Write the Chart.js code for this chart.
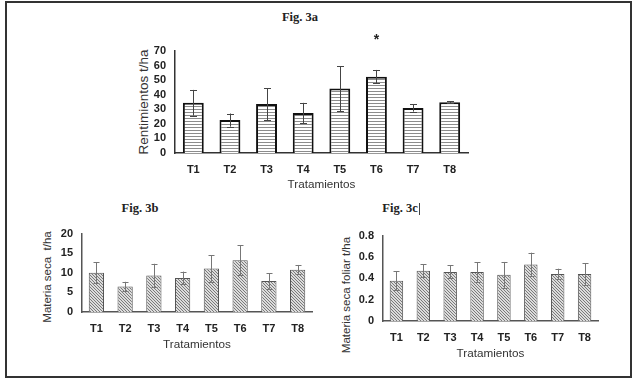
<!DOCTYPE html>
<html>
<head>
<meta charset="utf-8">
<script src="https://cdn.jsdelivr.net/npm/chart.js@4.4.1/dist/chart.umd.min.js"></script>
<style>
  body { margin: 0; background: #fff; width: 640px; height: 388px; position: relative; overflow: hidden; }
  .box { position: absolute; }
  .fig { position: absolute; font: bold 12.5px "Liberation Serif", serif; color: #222; transform: translate(-50%, -50%); white-space: nowrap; }
  .ytitle { position: absolute; font-family: "Liberation Sans", Arial, sans-serif; color: #333; white-space: pre; line-height: 1;
            transform: translate(-50%, -50%) rotate(-90deg); }
</style>
</head>
<body>
<div class="box" style="left:5px;top:1px;width:623px;height:373px;border:2px solid #333"></div>

<div class="fig" style="left:300px;top:17px">Fig. 3a</div>
<div class="fig" style="left:140px;top:208px">Fig. 3b</div>
<div class="fig" style="left:400px;top:208px">Fig. 3c</div>
<div class="box" style="left:419px;top:203px;width:1px;height:12px;background:#444"></div>

<div class="ytitle" style="left:144px;top:102px;font-size:13.5px">Rentimientos t/ha</div>
<div class="ytitle" style="left:48px;top:277px;font-size:11.5px">Materia seca  t/ha</div>
<div class="ytitle" style="left:347px;top:295px;font-size:11.5px">Materia seca foliar t/ha</div>

<div class="box" style="left:135px;top:28px"><canvas id="fig3a" width="345" height="164"></canvas></div>
<div class="box" style="left:42px;top:218px"><canvas id="fig3b" width="283" height="134"></canvas></div>
<div class="box" style="left:341px;top:220px"><canvas id="fig3c" width="271" height="141"></canvas></div>

<script>
// treatments on the x axis
const treatments = ["T1", "T2", "T3", "T4", "T5", "T6", "T7", "T8"];

// Fig. 3a - yield t/ha
const yieldMeans = [34.5, 22.6, 33.6, 27.4, 44.2, 52.4, 30.9, 34.8];
const yieldErrors = [8.8, 4.5, 11.0, 7.0, 15.5, 4.6, 2.5, 0.8];
const yieldMarks = ["", "", "", "", "", "*", "", ""];

// Fig. 3b - dry matter t/ha
const dryMeans = [10.0, 6.5, 9.3, 8.7, 11.1, 13.2, 7.9, 10.8];
const dryErrors = [2.7, 1.2, 3.0, 1.6, 3.4, 3.8, 2.0, 1.2];

// Fig. 3c - leaf dry matter t/ha
const leafMeans = [0.376, 0.47, 0.46, 0.46, 0.433, 0.53, 0.44, 0.44];
const leafErrors = [0.09, 0.06, 0.06, 0.09, 0.12, 0.11, 0.05, 0.10];

// horizontal line hatch
function hLines() {
  const c = document.createElement("canvas");
  c.width = 4; c.height = 3;
  const g = c.getContext("2d");
  g.fillStyle = "#fff"; g.fillRect(0, 0, 4, 3);
  g.fillStyle = "#8c8c8c"; g.fillRect(0, 0, 4, 1);
  return g.createPattern(c, "repeat");
}

// diagonal hatch
function dLines() {
  const c = document.createElement("canvas");
  c.width = 3; c.height = 3;
  const g = c.getContext("2d");
  g.fillStyle = "#dcdcdc"; g.fillRect(0, 0, 3, 3);
  g.fillStyle = "#7a7a7a";
  for (let i = 0; i < 3; i++) g.fillRect(i, i, 1, 1);
  return g.createPattern(c, "repeat");
}

// error bars + significance marks
const errorBars = {
  id: "errorBars",
  afterDatasetsDraw(chart, args, opts) {
    const ctx = chart.ctx;
    const x = chart.scales.x, y = chart.scales.y;
    const means = chart.data.datasets[0].data;
    ctx.save();
    ctx.strokeStyle = opts.color;
    ctx.lineWidth = 1;
    means.forEach((m, i) => {
      const e = opts.errors[i];
      const px = Math.round(x.getPixelForValue(i)) + 0.5;
      const top = y.getPixelForValue(m + e);
      const bot = y.getPixelForValue(m - e);
      ctx.beginPath();
      ctx.moveTo(px, top); ctx.lineTo(px, bot);
      ctx.moveTo(px - opts.cap, Math.round(top) + 0.5); ctx.lineTo(px + opts.cap, Math.round(top) + 0.5);
      ctx.moveTo(px - opts.cap, Math.round(bot) + 0.5); ctx.lineTo(px + opts.cap, Math.round(bot) + 0.5);
      ctx.stroke();
      if (opts.marks && opts.marks[i]) {
        ctx.fillStyle = "#222";
        ctx.font = "bold 14px 'Liberation Sans'";
        ctx.textAlign = "center";
        ctx.textBaseline = "middle";
        ctx.fillText(opts.marks[i], px, top - 30);
      }
    });
    ctx.restore();
  }
};

function makeChart(id, means, errors, o) {
  const ctx = document.getElementById(id).getContext("2d");
  return new Chart(ctx, {
    type: "bar",
    data: {
      labels: treatments,
      datasets: [{
        data: means,
        backgroundColor: o.fill,
        borderColor: o.border,
        borderWidth: o.borderWidth,
        barPercentage: o.barPct,
        categoryPercentage: 1
      }]
    },
    options: {
      responsive: false,
      animation: false,
      layout: { padding: { top: o.padTop, right: o.padRight, left: 0, bottom: 0 } },
      plugins: {
        legend: { display: false },
        tooltip: { enabled: false },
        errorBars: { errors: errors, color: o.errColor, cap: o.cap, marks: o.marks }
      },
      scales: {
        x: {
          grid: { display: false, drawTicks: false },
          border: { display: true, color: o.axisColor, width: 1.5 },
          ticks: { color: "#222", padding: 10, autoSkip: false,
                   font: { family: "Liberation Sans", size: 11, weight: "bold" } },
          title: { display: true, text: "Tratamientos", color: "#333", padding: 0,
                   font: { family: "Liberation Sans", size: 11.7 } },
          afterFit: (s) => { s.height = o.xHeight; }
        },
        y: {
          min: 0, max: o.max,
          grid: { display: false, drawTicks: false },
          border: { display: true, color: o.axisColor, width: 1.5 },
          ticks: { stepSize: o.step, color: "#222", padding: 9, autoSkip: false,
                   font: { family: "Liberation Sans", size: 11, weight: "bold" } },
          afterFit: (s) => { s.width = o.yWidth; }
        }
      }
    },
    plugins: [errorBars]
  });
}

makeChart("fig3a", yieldMeans, yieldErrors, {
  fill: hLines(), border: "#111", borderWidth: 2, barPct: 0.57,
  errColor: "#444", cap: 3.5, marks: yieldMarks, axisColor: "#333",
  max: 70, step: 10, padTop: 23, padRight: 12, xHeight: 39, yWidth: 40
});

makeChart("fig3b", dryMeans, dryErrors, {
  fill: dLines(), border: "#555", borderWidth: 1, barPct: 0.53,
  errColor: "#777", cap: 3, axisColor: "#555",
  max: 20, step: 5, padTop: 11, padRight: 13, xHeight: 40, yWidth: 40
});

makeChart("fig3c", leafMeans, leafErrors, {
  fill: dLines(), border: "#555", borderWidth: 1, barPct: 0.5,
  errColor: "#777", cap: 3, axisColor: "#555",
  max: 0.8, step: 0.2, padTop: 12, padRight: 14, xHeight: 40, yWidth: 42
});
</script>
</body>
</html>
